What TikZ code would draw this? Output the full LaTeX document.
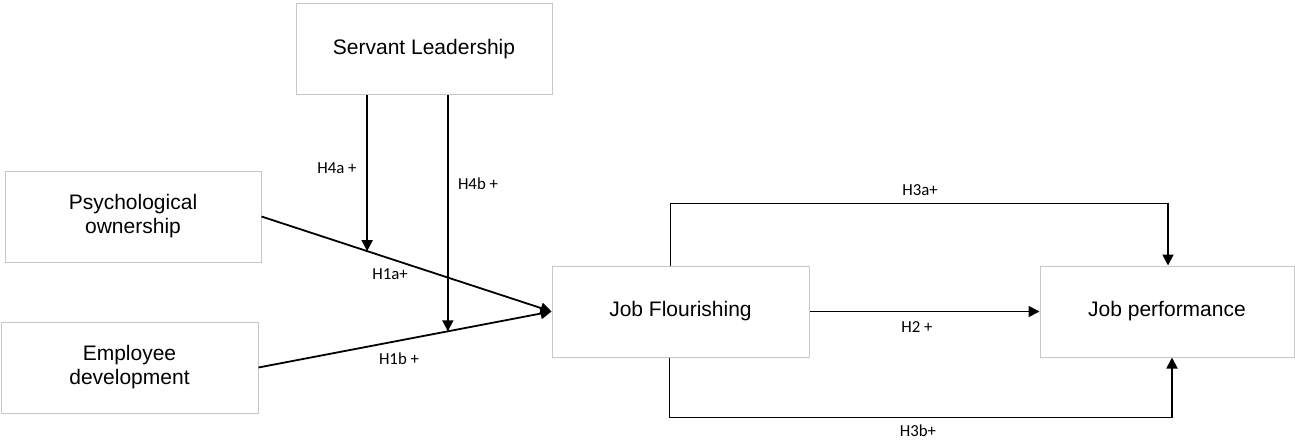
\documentclass[tikz,border=0pt]{standalone}
\usepackage{fontspec}
\setmainfont{Liberation Sans}
\newfontfamily\lblfont{Carlito}
\usetikzlibrary{arrows.meta,calc}
\tikzset{
  box/.style={draw=black!22, line width=1pt, fill=white, minimum width=256pt, minimum height=91pt, inner sep=0pt, align=center, font=\fontsize{21}{24.5}\selectfont},
  arr/.style={line width=1.8pt, -{Triangle[length=11pt,width=11pt]}},
  lbl/.style={inner sep=0pt, font=\lblfont\fontsize{16.8}{19}\selectfont}
}
\begin{document}
\begin{tikzpicture}[x=1pt,y=-1pt]
\useasboundingbox[fill=white] (0,0) rectangle (1295,439);
\node[box] (SL) at (424,49) {Servant Leadership};
\node[box] (PO) at (133,216.5) {\raisebox{-3pt}{\begin{tabular}{@{}c@{}}Psychological\\[-1pt]ownership\end{tabular}}};
\node[box, minimum width=257pt] (ED) at (129.5,367.5) {\raisebox{-3pt}{\begin{tabular}{@{}c@{}}Employee\\[-1pt]development\end{tabular}}};
\node[box, minimum width=257pt] (JF) at (680.5,311.5) {Job Flourishing};
\node[box, minimum width=254pt] (JP) at (1167,311.5) {Job performance};

\draw[arr] (PO.east) -- (JF.west);
\draw[arr] (ED.east) -- (JF.west);
\coordinate (m1) at ($(PO.east)!0.3643!(JF.west)$);
\coordinate (m2) at ($(ED.east)!0.6463!(JF.west)$);
\draw[arr] (m1 |- SL.south) -- (m1);
\draw[arr] (m2 |- SL.south) -- (m2);

\draw[arr] (JF.east) -- (JP.west);
\draw[arr] ($(JF.north)+(-10,0)$) -- ++(0,-62) -| ($(JP.north)+(1,0)$);
\draw[arr] ($(JF.south)+(-11,0)$) -- ++(0,60) -| ($(JP.south)+(5,0)$);

\node[lbl] (l4a) at (337,168) {H4a +};
\node[lbl] (l4b) at (478,184) {H4b +};
\node[lbl] (l1a) at (390,274) {H1a+};
\node[lbl] (l1b) at (399,359) {H1b +};
\node[lbl] (l3a) at (920,190) {H3a+};
\node[lbl] (l2) at (917,327) {H2 +};
\node[lbl] (l3b) at (918,430.5) {H3b+};
\end{tikzpicture}
\end{document}
